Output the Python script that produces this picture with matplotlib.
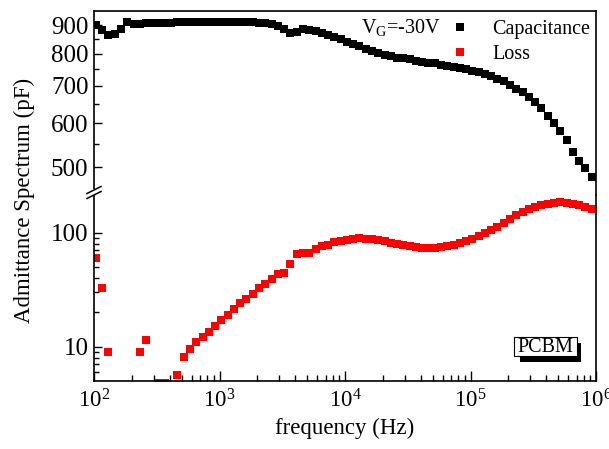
import matplotlib
matplotlib.use("Agg")
import numpy as np
import matplotlib.pyplot as plt
from matplotlib.ticker import FixedLocator, NullFormatter, FixedFormatter, LogFormatterMathtext
from matplotlib.lines import Line2D
from matplotlib.patches import Rectangle

plt.rcParams['font.family'] = 'Liberation Serif'
plt.rcParams['mathtext.fontset'] = 'custom'
plt.rcParams['mathtext.rm'] = 'Liberation Serif'
plt.rcParams['mathtext.it'] = 'Liberation Serif:italic'

# frequency sweep (Hz)
freq = [92, 104, 116, 130, 146, 164, 184, 207, 232, 260,
        292, 327, 367, 412, 462, 519, 582, 653, 733, 822,
        923, 1035, 1161, 1303, 1462, 1641, 1841, 2066, 2318, 2601,
        2917, 3273, 3673, 4121, 4624, 5188, 5821, 6531, 7328, 8222,
        9226, 10350, 11610, 13030, 14620, 16410, 18410, 20660, 23180, 26010,
        29170, 32730, 36730, 41210, 46240, 51880, 58210, 65310, 73280, 82220,
        92260, 103500, 116100, 130300, 146200, 164100, 184100, 206600, 231800, 260100,
        291700, 327300, 367300, 412100, 462400, 518800, 582100, 653100, 732800, 822200,
        922600]

# capacitance (pF)
capacitance = [908, 900, 882, 863, 867, 885, 911, 905, 904, 906,
               907, 908, 909, 909, 910, 910, 911, 911, 911, 912,
               912, 912, 912, 911, 911, 910, 910, 909, 907, 905,
               898, 885, 872, 874, 885, 883, 877, 871, 864, 857,
               849, 841, 833, 825, 816, 808, 801, 796, 791, 787,
               784, 781, 777, 774, 771, 768, 764, 761, 757, 754,
               750, 746, 741, 735, 728, 721, 713, 704, 692, 682,
               670, 655, 638, 618, 600, 582, 560, 533, 514, 498,
               481]

# loss (nan = not shown, below axis)
nan = np.nan
loss = [74, 60, 33, 9.0, nan, nan, nan, nan, 9.0, 11.5,
        nan, 4.8, 4.8, nan, 5.7, 8.2, 9.6, 10.9, 12.2, 13.5,
        15.3, 17.2, 19.1, 21.4, 24.0, 26.3, 29.2, 32.5, 35.7, 39.5,
        43.7, 44.8, 53.5, 65, 66.5, 67, 72, 76, 79, 82.5,
        84.5, 87, 89, 90, 89, 88, 86.5, 84.5, 82, 80,
        78.5, 77, 75, 74, 73, 73.2, 74.5, 76.5, 78.5, 81.5,
        85, 88.5, 93, 99, 106, 113, 122, 132, 143, 153,
        161, 168, 176, 181, 184, 185, 184.5, 180, 174, 168,
        161]

W, H = 609, 449
def fx(px):
    return px / W
def fy(py):
    return 1 - py / H

fig = plt.figure(figsize=(W / 100, H / 100), dpi=100)

L, R = 94, 596
ax_top = fig.add_axes([fx(L), fy(195), fx(R) - fx(L), fy(11) - fy(195)])
ax_bot = fig.add_axes([fx(L), fy(381), fx(R) - fx(L), fy(195) - fy(381)])

ax_top.plot(freq, capacitance, 's', color='black', ms=5.5, mew=0)
ax_bot.plot(freq, loss, 's', color='red', ms=5.5, mew=0)

for ax in (ax_top, ax_bot):
    ax.set_xscale('log')
    ax.set_yscale('log')
    ax.set_xlim(100, 1e6)
    for s in ax.spines.values():
        s.set_linewidth(1.2)

ax_top.spines['bottom'].set_visible(False)
ax_bot.spines['top'].set_visible(False)

ax_top.set_ylim(446, 954)
ax_top.yaxis.set_major_locator(FixedLocator([500, 600, 700, 800, 900]))
ax_top.yaxis.set_major_formatter(FixedFormatter(['500', '600', '700', '800', '900']))
ax_top.yaxis.set_minor_locator(FixedLocator([550, 650, 750, 850]))
ax_top.yaxis.set_minor_formatter(NullFormatter())
ax_top.tick_params(axis='x', which='both', bottom=False, top=False, labelbottom=False)

ax_bot.set_ylim(5, 215)
ax_bot.yaxis.set_major_locator(FixedLocator([10, 100]))
ax_bot.yaxis.set_major_formatter(FixedFormatter(['10', '100']))
ax_bot.yaxis.set_minor_locator(FixedLocator([6, 7, 8, 9, 20, 30, 40, 50, 60, 70, 80, 90]))
ax_bot.yaxis.set_minor_formatter(NullFormatter())
ax_bot.xaxis.set_major_formatter(LogFormatterMathtext())

for ax in (ax_top, ax_bot):
    ax.tick_params(axis='y', which='major', direction='in', length=6, width=1,
                   right=False, labelsize=18, pad=4)
    ax.tick_params(axis='y', which='minor', direction='in', length=3.5, width=1, right=False)
ax_bot.tick_params(axis='x', which='major', direction='in', length=7, width=1,
                   top=False, labelsize=16.5, pad=6)
ax_bot.tick_params(axis='x', which='minor', direction='in', length=4, width=1, top=False)

ax_bot.set_xlabel('frequency (Hz)', fontsize=16.5, labelpad=4)
fig.text(fx(24), fy(200), 'Admittance Spectrum (pF)', rotation=90,
         ha='center', va='center', fontsize=16.5)

# axis break marks on the left spine
fig.patches.append(Rectangle((fx(91), fy(195)), fx(6), fy(189) - fy(195),
                             transform=fig.transFigure, facecolor='white',
                             edgecolor='none', zorder=5))
for dy in (-2.5, 2.5):
    fig.lines.append(Line2D([fx(87), fx(101)], [fy(196 + dy), fy(189 + dy)],
                            transform=fig.transFigure, color='black', lw=1.1, zorder=6))

# legend
handles = [Line2D([], [], ls='none', marker='s', color='black', ms=5.5, mew=0),
           Line2D([], [], ls='none', marker='s', color='red', ms=5.5, mew=0)]
fig.legend(handles, ['Capacitance', 'Loss'], loc='upper right',
           bbox_to_anchor=(fx(598), fy(12)), frameon=False, fontsize=14.5,
           handlelength=1.0, handletextpad=1.1, labelspacing=0.3, borderaxespad=0)
fig.text(fx(361), fy(28), r'V$_\mathregular{G}$=-30V', ha='left', va='center', fontsize=14.5)

# sample label box with shadow
fig.patches.append(Rectangle((fx(520), fy(362)), fx(581) - fx(520), fy(343) - fy(362),
                             transform=fig.transFigure, facecolor='black',
                             edgecolor='none', zorder=5))
fig.patches.append(Rectangle((fx(514), fy(356)), fx(577) - fx(514), fy(337) - fy(356),
                             transform=fig.transFigure, facecolor='white',
                             edgecolor='black', lw=0.8, zorder=6))
fig.text(fx(545.5), fy(347), 'PCBM', ha='center', va='center', fontsize=14.5, zorder=7)

fig.savefig('out.png', dpi=100)
